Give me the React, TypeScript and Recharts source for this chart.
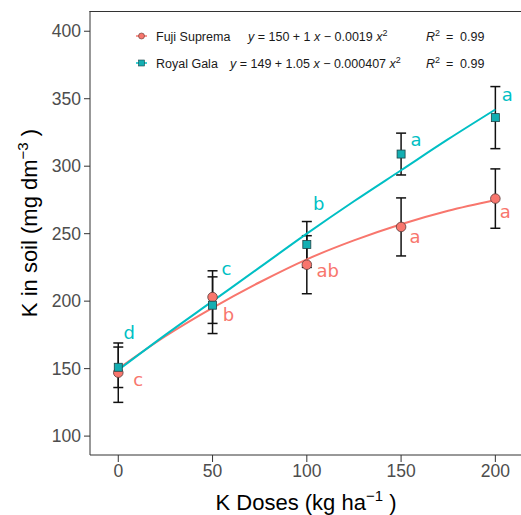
import React from 'react';
import { ComposedChart, XAxis, YAxis, Scatter, Line, ErrorBar } from 'recharts';

// K doses and observed means (mg dm-3) with error bars
const DOSES = [0, 50, 100, 150, 200];
const FUJI_MEAN = [147, 203, 227, 255, 276];
const FUJI_ERR = [22, 19.5, 21.5, 21.5, 22];
const GALA_MEAN = [151, 197, 242, 309, 336];
const GALA_ERR = [15, 21, 17, 15.5, 23];
const FUJI_LETTERS = ['c', 'b', 'ab', 'a', 'a'];
const GALA_LETTERS = ['d', 'c', 'b', 'a', 'a'];

// fitted curves
const FIT_X = [0, 25, 50, 75, 100, 125, 150, 175, 200];
const FUJI_FIT = [150, 174, 195, 214, 231, 245, 257, 267, 275];
const GALA_FIT = [149, 175, 200, 225, 250, 274, 297, 320, 342];

const X_TICKS = [0, 50, 100, 150, 200];
const Y_TICKS = [100, 150, 200, 250, 300, 350, 400];

const RED = '#F8766D';
const TEAL = '#00BFC4';
const TICK_FONT = '"Liberation Sans", Arial, sans-serif';
const LETTER_FONT = '"DejaVu Sans", sans-serif';

// letter placement relative to each point (px)
const FUJI_LETTER_OFFSET = [[20, 7], [16, 17], [21, 6], [14, 10], [10, 13]];
const GALA_LETTER_OFFSET = [[11, -35], [14, -37], [12, -41], [15, -15], [12, -23]];

const fujiPoints = DOSES.map((x, i) => ({ x, y: FUJI_MEAN[i], err: FUJI_ERR[i], letter: FUJI_LETTERS[i], i }));
const galaPoints = DOSES.map((x, i) => ({ x, y: GALA_MEAN[i], err: GALA_ERR[i], letter: GALA_LETTERS[i], i }));
const fujiFit = FIT_X.map((x, i) => ({ x, y: FUJI_FIT[i] }));
const galaFit = FIT_X.map((x, i) => ({ x, y: GALA_FIT[i] }));

const CircleShape = (props: any) => {
  const { cx, cy, payload } = props;
  const [dx, dy] = FUJI_LETTER_OFFSET[payload.i];
  return (
    <g>
      <circle cx={cx} cy={cy} r={4.8} fill={RED} stroke="#5a3a38" strokeWidth={0.8} />
      <text x={cx + dx} y={cy + dy} fill={RED} fontSize={18} fontFamily={LETTER_FONT}
        textAnchor="middle" dominantBaseline="central">{payload.letter}</text>
    </g>
  );
};

const SquareShape = (props: any) => {
  const { cx, cy, payload } = props;
  const [dx, dy] = GALA_LETTER_OFFSET[payload.i];
  return (
    <g>
      <rect x={cx - 4} y={cy - 4} width={8} height={8} fill="#13AEB2" stroke="#1f4446" strokeWidth={0.8} />
      <text x={cx + dx} y={cy + dy} fill={TEAL} fontSize={18} fontFamily={LETTER_FONT}
        textAnchor="middle" dominantBaseline="central">{payload.letter}</text>
    </g>
  );
};

const RSquared = ({ y }: { y: number }) => (
  <g>
    <text x={426} y={y}>
      <tspan fontStyle="italic">R</tspan><tspan fontSize={9} dy={-5}>2</tspan>
    </text>
    <text x={446} y={y}>=</text>
    <text x={460} y={y}>0.99</text>
  </g>
);

const Overlay = () => (
  <svg width={521} height={515} style={{ position: 'absolute', left: 0, top: 0, pointerEvents: 'none' }}>
    <line x1={89.5} y1={11.5} x2={521} y2={11.5} stroke="#333" strokeWidth={1} />
    <g fontFamily={TICK_FONT} fontSize={12.5} fill="#1a1a1a">
      <line x1={136} y1={36} x2={147} y2={36} stroke={RED} strokeWidth={1.5} />
      <circle cx={141.5} cy={36} r={3} fill={RED} stroke="#5a3a38" strokeWidth={0.6} />
      <text x={156} y={40.5}>Fuji Suprema</text>
      <text x={248} y={40.5}>
        <tspan fontStyle="italic">y</tspan> = 150 + 1 <tspan fontStyle="italic">x</tspan> − 0.0019 <tspan fontStyle="italic">x</tspan>
        <tspan fontSize={9} dy={-5}>2</tspan>
      </text>
      <RSquared y={40.5} />

      <line x1={136} y1={63} x2={147} y2={63} stroke={TEAL} strokeWidth={1.5} />
      <rect x={138.5} y={60} width={6} height={6} fill="#13AEB2" stroke="#1f4446" strokeWidth={0.6} />
      <text x={156} y={67.5}>Royal Gala</text>
      <text x={230} y={67.5}>
        <tspan fontStyle="italic">y</tspan> = 149 + 1.05 <tspan fontStyle="italic">x</tspan> − 0.000407 <tspan fontStyle="italic">x</tspan>
        <tspan fontSize={9} dy={-5}>2</tspan>
      </text>
      <RSquared y={67.5} />
    </g>
    <text x={306} y={510} textAnchor="middle" fontFamily={TICK_FONT} fontSize={22} fill="#000">
      K Doses (kg ha<tspan fontSize={15} dy={-9}>−1</tspan><tspan dy={9}> )</tspan>
    </text>
    <text x={0} y={0} transform="translate(37,223) rotate(-90)" textAnchor="middle" fontFamily={TICK_FONT} fontSize={22} fill="#000">
      K in soil (mg dm<tspan fontSize={15} dy={-9}>−3</tspan><tspan dy={9}> )</tspan>
    </text>
  </svg>
);

export default function App() {
  const tick = { fill: '#4D4D4D', fontSize: 17.5, fontFamily: TICK_FONT };
  return (
    <div style={{ position: 'absolute', left: 0, top: 0, width: 521, height: 515, background: '#fff' }}>
      <ComposedChart width={521} height={515} margin={{ top: 11, right: 0, bottom: 0, left: 0 }}>
        <XAxis dataKey="x" type="number" domain={[-15, 213.6]} ticks={X_TICKS} allowDataOverflow
          height={60} tick={tick} tickSize={7} tickMargin={3}
          axisLine={{ stroke: '#333' }} tickLine={{ stroke: '#333' }} />
        <YAxis dataKey="y" type="number" domain={[86, 415]} ticks={Y_TICKS} allowDataOverflow
          width={90} tick={tick} tickSize={6} tickMargin={3}
          axisLine={{ stroke: '#333' }} tickLine={{ stroke: '#333' }} />
        <Scatter data={fujiPoints} dataKey="y" shape={CircleShape} isAnimationActive={false}>
          <ErrorBar dataKey="err" direction="y" width={5} stroke="#111" strokeWidth={1.5} />
        </Scatter>
        <Scatter data={galaPoints} dataKey="y" shape={SquareShape} isAnimationActive={false}>
          <ErrorBar dataKey="err" direction="y" width={5} stroke="#111" strokeWidth={1.5} />
        </Scatter>
        <Line data={fujiFit} dataKey="y" type="monotone" stroke={RED} strokeWidth={2} dot={false} isAnimationActive={false} />
        <Line data={galaFit} dataKey="y" type="monotone" stroke={TEAL} strokeWidth={2} dot={false} isAnimationActive={false} />
      </ComposedChart>
      <Overlay />
    </div>
  );
}
